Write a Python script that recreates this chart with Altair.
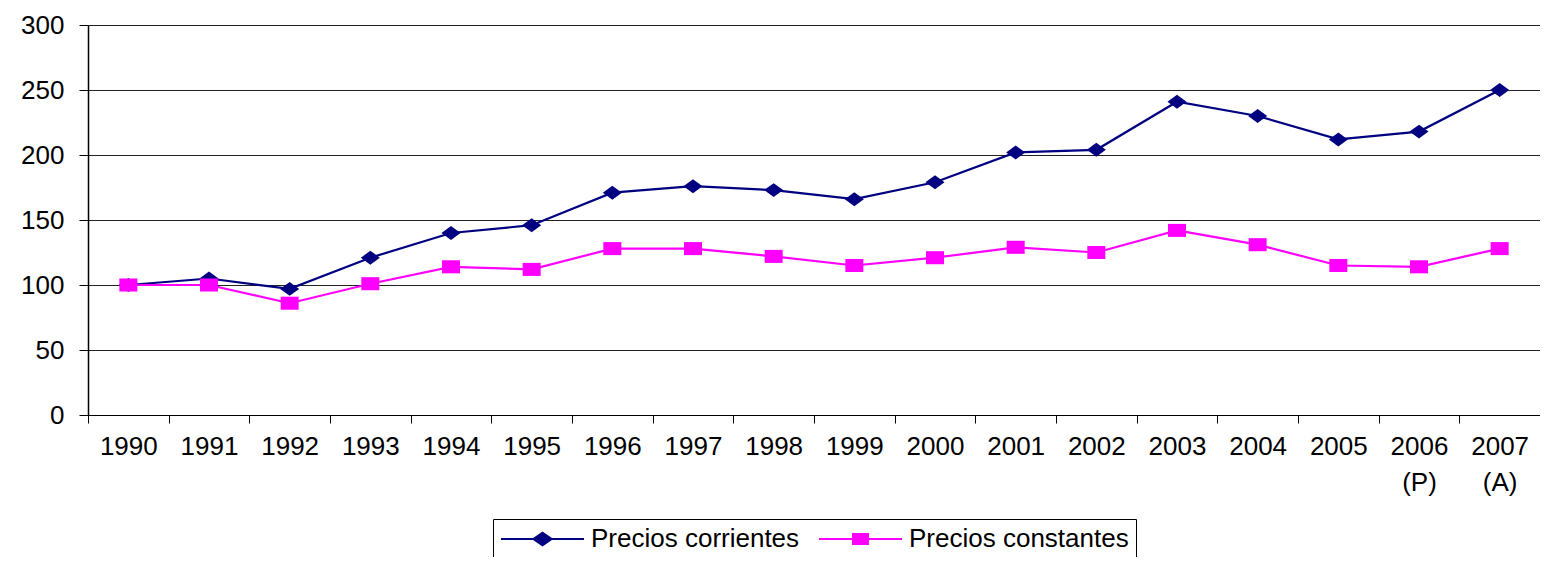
import altair as alt
import pandas as pd

years = ["1990", "1991", "1992", "1993", "1994", "1995", "1996", "1997", "1998",
         "1999", "2000", "2001", "2002", "2003", "2004", "2005", "2006|(P)", "2007|(A)"]
corrientes = [100, 105, 97, 121, 140, 146, 171, 176, 173, 166, 179, 202, 204, 241, 230, 212, 218, 250]
constantes = [100, 100, 86, 101, 114, 112, 128, 128, 122, 115, 121, 129, 125, 142, 131, 115, 114, 128]
series = ["Precios corrientes", "Precios constantes"]
colors = ["#000080", "#FF00FF"]

rows = []
for name, vals in zip(series, [corrientes, constantes]):
    for y, v in zip(years, vals):
        rows.append({"year": y, "value": v, "series": name})
df = pd.DataFrame(rows)

FONT = "Liberation Sans"
FS = 26

diamond = "M-1.27,0L0,-0.93L1.27,0L0,0.93Z"
square = "M-1.2,-0.87H1.2V0.87H-1.2Z"
leg_diamond = "M-1,0H1M-0.22,0L0,-0.15L0.22,0L0,0.15Z"
leg_square = "M-1,0H1M-0.18,-0.12H0.18V0.12H-0.18Z"

LEG = dict(title=None, orient="none", legendX=405, legendY=494,
           direction="horizontal", labelFont=FONT, labelFontSize=FS,
           labelColor="black", labelLimit=0, symbolSize=6889, clipHeight=26,
           labelOffset=6, columnPadding=18, padding=7,
           strokeColor="black", symbolStrokeWidth=2, symbolOpacity=1)

x_enc = alt.X("year:N", sort=years, title=None,
              scale=alt.Scale(paddingInner=0, paddingOuter=0),
              axis=alt.Axis(labelAngle=0, labelFont=FONT, labelFontSize=FS, labelColor="black",
                            labelExpr="split(datum.label, '|')", labelLineHeight=36,
                            tickBand="extent", tickSize=8, tickColor="black",
                            domainColor="black", labelPadding=10, grid=False,
                            labelBaseline="top"))
y_enc = alt.Y("value:Q", title=None,
              scale=alt.Scale(domain=[0, 300], nice=False),
              axis=alt.Axis(values=[0, 50, 100, 150, 200, 250, 300], labelFont=FONT,
                            labelFontSize=FS, labelColor="black", tickSize=9, tickColor="black",
                            domainColor="black", domainWidth=1.5, labelPadding=15,
                            grid=True, gridColor="#222222", gridWidth=1))
col_scale = alt.Scale(domain=series, range=colors)

lines = alt.Chart(df).mark_line(strokeWidth=2.2).encode(
    x=x_enc, y=y_enc,
    color=alt.Color("series:N", sort=series, scale=col_scale, legend=alt.Legend(**LEG)))

pts_c = alt.Chart(df).transform_filter(alt.datum.series == series[0]).mark_point(
    filled=True, opacity=1, size=225, shape=diamond).encode(
    x=x_enc, y=y_enc,
    color=alt.Color("series:N", sort=series, scale=col_scale))

pts_k = alt.Chart(df).transform_filter(alt.datum.series == series[1]).mark_point(
    filled=True, opacity=1, size=225, shape=square).encode(
    x=x_enc, y=y_enc,
    color=alt.Color("series:N", sort=series, scale=col_scale))

legend_src = alt.Chart(df).mark_point(
    filled=True, opacity=0, size=6889, strokeWidth=2).encode(
    x=x_enc, y=y_enc,
    fill=alt.Fill("series:N", sort=series, scale=alt.Scale(domain=series, range=colors),
                  legend=alt.Legend(**LEG)),
    stroke=alt.Stroke("series:N", sort=series, scale=alt.Scale(domain=series, range=colors)),
    shape=alt.Shape("series:N", sort=series,
                    scale=alt.Scale(domain=series, range=[leg_diamond, leg_square])))

chart = alt.layer(lines, pts_c, pts_k, legend_src).properties(
    width=1452, height=390,
    autosize=alt.AutoSizeParams(type="none"),
    padding={"left": 80, "top": 17, "right": 0, "bottom": 142},
).configure_view(stroke="#888888", strokeWidth=1.5).configure(background="white")

chart.save("out.html", embed_options={"renderer": "svg", "actions": False})
